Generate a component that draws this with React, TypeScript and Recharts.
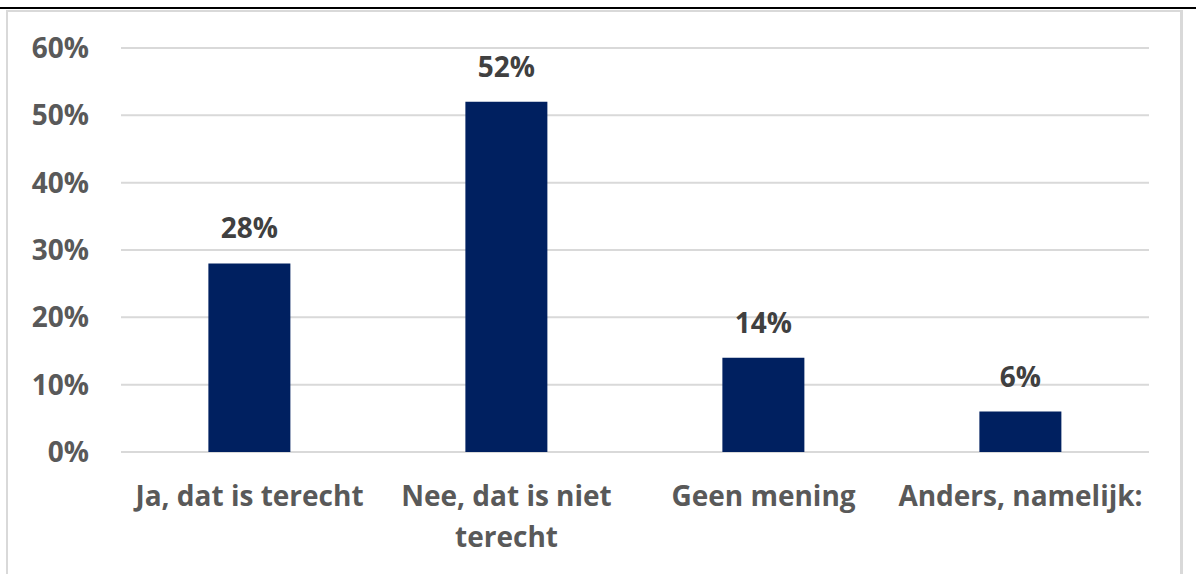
import React from "react";
import { BarChart, Bar, XAxis, YAxis, CartesianGrid, LabelList } from "recharts";

const categories = ["Ja, dat is terecht", "Nee, dat is niet terecht", "Geen mening", "Anders, namelijk:"];
const values = [28, 52, 14, 6];
const yTicks = [0, 10, 20, 30, 40, 50, 60];

const data = categories.map((c, i) => ({ name: c, value: values[i] }));

const FONT = "'Open Sans', Lato, sans-serif";
const FS = 28;
const WRAP = 250;

let ctx: CanvasRenderingContext2D | null = null;
function measure(s: string): number {
  if (!ctx) {
    const c = document.createElement("canvas");
    ctx = c.getContext("2d");
  }
  if (!ctx) return s.length * FS * 0.55;
  ctx.font = `700 ${FS}px 'Open Sans', Lato, sans-serif`;
  return ctx.measureText(s).width;
}

function wrap(label: string): string[] {
  const words = label.split(" ");
  const lines: string[] = [];
  let cur = "";
  for (const w of words) {
    const test = cur ? cur + " " + w : w;
    if (cur && measure(test) > WRAP) {
      lines.push(cur);
      cur = w;
    } else {
      cur = test;
    }
  }
  if (cur) lines.push(cur);
  return lines;
}

const CatTick = (props: any) => {
  const { x, y, payload } = props;
  const lines = wrap(String(payload.value));
  return (
    <text
      x={x}
      y={y}
      textAnchor="middle"
      fill="#595959"
      fontSize={FS}
      fontWeight={700}
      fontFamily={FONT}
    >
      {lines.map((l, i) => (
        <tspan key={i} x={x} dy={i === 0 ? 20 : 41}>
          {l}
        </tspan>
      ))}
    </text>
  );
};

export default function App() {
  return (
    <div style={{ position: "absolute", left: 0, top: 0, width: 1196, height: 574, background: "#fff", overflow: "hidden" }}>
      <div style={{ position: "absolute", left: 0, top: 7, width: 1196, height: 2, background: "#000" }} />
      <div
        style={{
          position: "absolute",
          left: 6,
          top: 10,
          width: 1177,
          height: 600,
          borderLeft: "2px solid #d9d9d9",
          borderTop: "2px solid #d9d9d9",
          borderRight: "3px solid #d9d9d9",
          boxSizing: "border-box",
        }}
      />
      <div style={{ position: "absolute", left: 0, top: 0 }}>
        <BarChart
          width={1196}
          height={574}
          data={data}
          margin={{ top: 48, right: 47, bottom: 0, left: 0 }}
          barCategoryGap="34%"
        >
          <CartesianGrid vertical={false} stroke="#d9d9d9" strokeWidth={2} />
          <YAxis
            width={121}
            domain={[0, 60]}
            ticks={yTicks}
            interval={0}
            axisLine={false}
            tickLine={false}
            tickSize={0}
            tickMargin={32}
            tickFormatter={(v: number) => `${v}%`}
            tick={{ fill: "#595959", fontSize: FS, fontWeight: 700, fontFamily: FONT }}
          />
          <XAxis
            dataKey="name"
            height={122}
            axisLine={false}
            tickLine={false}
            tickSize={0}
            tickMargin={34}
            interval={0}
            tick={<CatTick />}
          />
          <Bar dataKey="value" fill="#002060" isAnimationActive={false}>
            <LabelList
              dataKey="value"
              position="top"
              offset={25}
              formatter={(v: number) => `${v}%`}
              fill="#404040"
              fontSize={FS}
              fontWeight={700}
              fontFamily={FONT}
            />
          </Bar>
        </BarChart>
      </div>
    </div>
  );
}
